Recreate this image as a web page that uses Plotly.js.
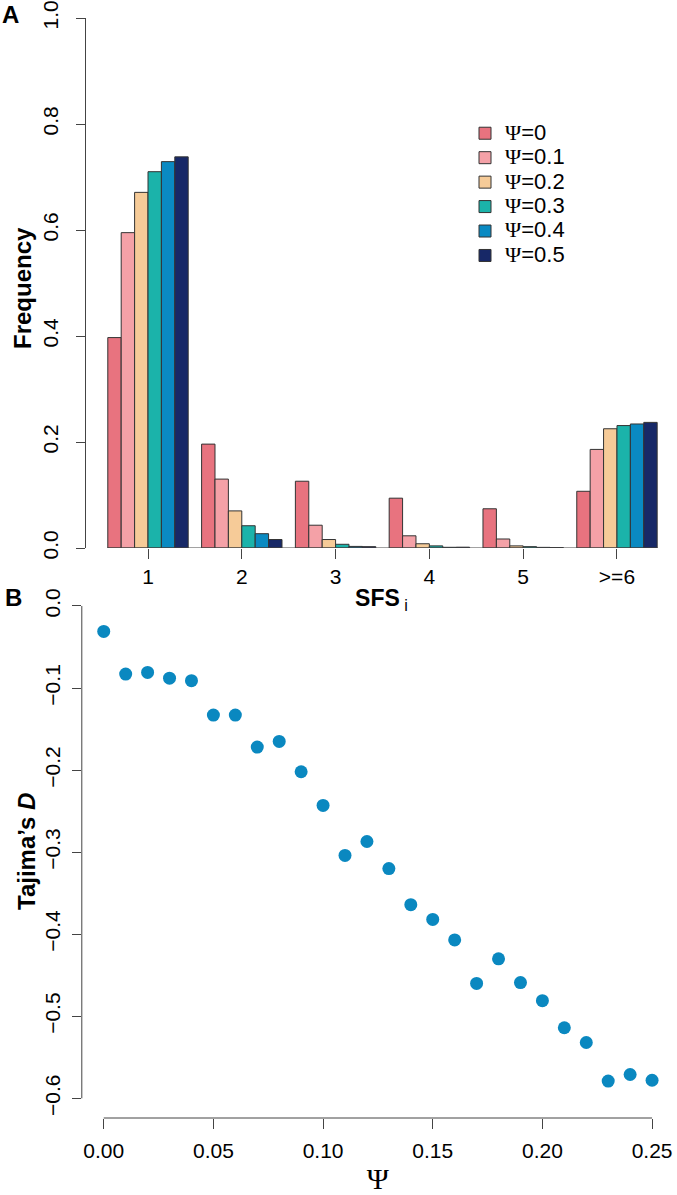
<!DOCTYPE html>
<html>
<head>
<meta charset="utf-8">
<script src="https://cdn.plot.ly/plotly-3.0.1.min.js"></script>
<style>html,body{margin:0;padding:0;background:#fff;}</style>
</head>
<body>
<div id="chart" style="width:677px;height:1195px;"></div>
<script>
// ---- Panel A data: site frequency spectrum ----
var sfsCategories = ['1', '2', '3', '4', '5', '>=6'];
var psiLabels = ['0', '0.1', '0.2', '0.3', '0.4', '0.5'];
var freqPsi0   = [0.397, 0.196, 0.126, 0.094, 0.074, 0.107];
var freqPsi01  = [0.595, 0.130, 0.043, 0.023, 0.017, 0.186];
var freqPsi02  = [0.671, 0.070, 0.016, 0.008, 0.004, 0.225];
var freqPsi03  = [0.710, 0.042, 0.007, 0.004, 0.0025, 0.231];
var freqPsi04  = [0.729, 0.027, 0.003, 0.0013, 0.0012, 0.234];
var freqPsi05  = [0.738, 0.016, 0.0025, 0.0015, 0.0008, 0.237];
var barColors = ['#E8737F', '#F4A1A7', '#F6CB98', '#1BB3AA', '#0A8AC2', '#172867'];

// ---- Panel B data: Tajima's D vs Psi ----
var psiValues = [0.00, 0.01, 0.02, 0.03, 0.04, 0.05, 0.06, 0.07, 0.08, 0.09,
                 0.10, 0.11, 0.12, 0.13, 0.14, 0.15, 0.16, 0.17, 0.18, 0.19,
                 0.20, 0.21, 0.22, 0.23, 0.24, 0.25];
var tajimaD = [-0.031, -0.083, -0.081, -0.088, -0.091, -0.133, -0.133, -0.172, -0.165, -0.202,
               -0.243, -0.304, -0.287, -0.320, -0.364, -0.382, -0.407, -0.460, -0.430, -0.459,
               -0.481, -0.514, -0.532, -0.579, -0.571, -0.578];

var seriesA = [freqPsi0, freqPsi01, freqPsi02, freqPsi03, freqPsi04, freqPsi05];
var FONT = 'Liberation Sans, Arial, Helvetica, sans-serif';
var SERIF = 'Liberation Serif, Times New Roman, serif';
var AXC = '#444';

var traces = seriesA.map(function (vals, i) {
  return {
    type: 'bar',
    x: sfsCategories,
    y: vals,
    name: '<span style="font-size:22px"><span style="font-family:' + SERIF + '">\u03A8</span>=' + psiLabels[i] + '</span>',
    marker: {color: barColors[i], line: {color: '#333', width: 1}},
    xaxis: 'x', yaxis: 'y',
    hoverinfo: 'none'
  };
});

traces.push({
  type: 'scatter',
  mode: 'markers',
  x: psiValues,
  y: tajimaD,
  xaxis: 'x2', yaxis: 'y2',
  marker: {color: '#0A88C0', size: 13},
  showlegend: false,
  hoverinfo: 'none'
});

var W = 677, H = 1195;
function fy(px) { return (H - px) / H; }

var layout = {
  width: W, height: H,
  margin: {l: 0, r: 0, t: 0, b: 0},
  paper_bgcolor: '#fff', plot_bgcolor: 'rgba(0,0,0,0)',
  font: {family: FONT, color: '#000', size: 21},
  barmode: 'group',
  bargap: 1 / 7,
  bargroupgap: 0,
  showlegend: true,
  legend: {
    x: 465 / W, y: fy(116), xanchor: 'left', yanchor: 'top',
    bgcolor: 'rgba(0,0,0,0)', borderwidth: 0,
    font: {family: FONT, size: 16.5, color: '#000'},
    tracegroupgap: 0
  },
  xaxis: {
    domain: [86 / W, 1],
    anchor: 'y',
    type: 'category',
    range: [-0.661, 5.64],
    showline: false, showgrid: false, zeroline: false,
    ticks: 'outside', ticklen: 10, tickwidth: 1, tickcolor: AXC,
    tickfont: {size: 21},
    title: {
      text: '<b>SFS</b><sub> i</sub>',
      font: {size: 23, family: FONT},
      standoff: 2
    }
  },
  yaxis: {
    domain: [fy(548), fy(18)],
    anchor: 'x',
    range: [0, 1],
    showline: true, linecolor: AXC, linewidth: 1,
    showgrid: false, zeroline: false,
    ticks: 'outside', ticklen: 9, tickwidth: 1, tickcolor: AXC,
    tickvals: [0, 0.2, 0.4, 0.6, 0.8, 1.0],
    ticktext: ['0.0', '0.2', '0.4', '0.6', '0.8', '1.0'],
    tickangle: -90,
    ticklabelstandoff: 10,
    tickfont: {size: 21}
  },
  xaxis2: {
    domain: [81.8 / W, 674 / W],
    anchor: 'y2',
    range: [-0.01, 0.26],
    showline: false, showgrid: false, zeroline: false,
    ticks: 'outside', ticklen: 10, tickwidth: 1, tickcolor: AXC,
    tickvals: [0, 0.05, 0.10, 0.15, 0.20, 0.25],
    ticktext: ['0.00', '0.05', '0.10', '0.15', '0.20', '0.25'],
    ticklabelstandoff: 4,
    tickfont: {size: 21},
    title: {
      text: '\u03A8',
      font: {size: 30, family: SERIF},
      standoff: 16
    }
  },
  yaxis2: {
    domain: [fy(1118), fy(586.3)],
    anchor: 'x2',
    range: [-0.624, 0.024],
    showline: false, showgrid: false, zeroline: false,
    ticks: 'outside', ticklen: 9, tickwidth: 1, tickcolor: AXC,
    tickvals: [-0.6, -0.5, -0.4, -0.3, -0.2, -0.1, 0],
    ticktext: ['\u22120.6', '\u22120.5', '\u22120.4', '\u22120.3', '\u22120.2', '\u22120.1', '0.0'],
    tickangle: -90,
    ticklabelstandoff: 3,
    tickfont: {size: 21}
  },
  shapes: [
    // panel A baseline
    {type: 'line', xref: 'x', yref: 'y', x0: -3 / 7, x1: 5 + 3 / 7, y0: 0, y1: 0,
     line: {color: AXC, width: 1}},
    // panel B y axis line (0 to -0.6)
    {type: 'line', xref: 'x2 domain', yref: 'y2', x0: 0, x1: 0, y0: -0.6, y1: 0,
     line: {color: AXC, width: 1}},
    // panel B x axis line (0 to 0.25)
    {type: 'line', xref: 'x2', yref: 'y2 domain', x0: 0, x1: 0.25, y0: 0, y1: 0,
     line: {color: AXC, width: 1}}
  ],
  annotations: [
    {text: '<b>A</b>', xref: 'paper', yref: 'paper', x: 11 / W, y: fy(15),
     xanchor: 'center', yanchor: 'middle', showarrow: false, font: {size: 24, family: FONT}},
    {text: '<b>B</b>', xref: 'paper', yref: 'paper', x: 13 / W, y: fy(597),
     xanchor: 'center', yanchor: 'middle', showarrow: false, font: {size: 24, family: FONT}},
    {text: '<b>Frequency</b>', xref: 'paper', yref: 'paper', x: 22 / W, y: fy(288),
     xanchor: 'center', yanchor: 'middle', textangle: -90, showarrow: false,
     font: {size: 24, family: FONT}},
    {text: '<b>Tajima\u2019s <i>D</i></b>', xref: 'paper', yref: 'paper', x: 26 / W, y: fy(852),
     xanchor: 'center', yanchor: 'middle', textangle: -90, showarrow: false,
     font: {size: 24, family: FONT}}
  ]
};

Plotly.newPlot('chart', traces, layout, {staticPlot: true, displayModeBar: false});
</script>
</body>
</html>
